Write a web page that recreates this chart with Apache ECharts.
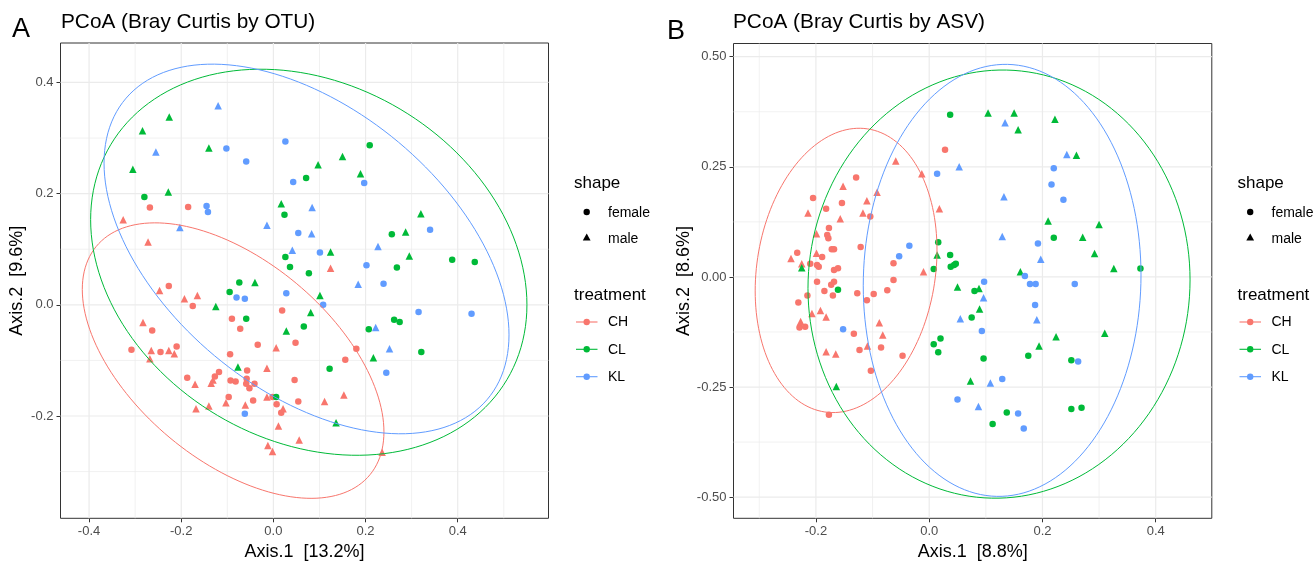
<!DOCTYPE html>
<html><head><meta charset="utf-8">
<script src="https://cdn.jsdelivr.net/npm/echarts@6/dist/echarts.min.js"></script>
<style>html,body{margin:0;padding:0;background:#fff}#c{width:1315px;height:563px}</style>
</head><body><div id="c"></div>
<script>
const FONT = '"Liberation Sans", Arial, sans-serif';
const treatments = ['CH', 'CL', 'KL'];
const treatmentColors = ['#F8766D', '#00BA38', '#619CFF'];
const shapeLabels = ['female', 'male'];

// ---------- Panel A (OTU) ----------
const A_CH_female = [[-0.268,0.175],[-0.185,0.176],[-0.227,0.034],[-0.175,-0.002],[0.019,-0.010],[-0.090,-0.025],[-0.263,-0.046],[-0.072,-0.043],[0.048,-0.068],[-0.034,-0.072],[-0.308,-0.081],[-0.245,-0.085],[-0.210,-0.075],[-0.094,-0.089],[-0.057,-0.118],[0.046,-0.135],[-0.118,-0.121],[-0.127,-0.129],[-0.187,-0.131],[-0.093,-0.136],[-0.082,-0.138],[-0.058,-0.133],[-0.059,-0.142],[-0.052,-0.150],[-0.041,-0.142],[-0.002,-0.166],[-0.097,-0.166],[-0.044,-0.172],[0.007,-0.179],[0.017,-0.194],[0.054,-0.174],[0.180,-0.079],[0.156,-0.099]];
const A_CH_male = [[-0.326,0.153],[-0.272,0.113],[0.124,0.066],[-0.247,0.026],[-0.193,0.011],[-0.165,0.017],[-0.283,-0.032],[0.006,-0.077],[-0.265,-0.082],[-0.227,-0.082],[-0.215,-0.088],[-0.268,-0.097],[-0.014,-0.114],[-0.131,-0.135],[-0.135,-0.141],[-0.170,-0.143],[-0.014,-0.166],[-0.103,-0.176],[-0.061,-0.180],[-0.140,-0.182],[-0.168,-0.187],[0.021,-0.187],[0.011,-0.218],[0.056,-0.243],[-0.012,-0.253],[-0.002,-0.264],[0.153,-0.162],[0.111,-0.174],[0.236,-0.265]];
const A_CL_female = [[0.071,0.228],[-0.280,0.194],[0.024,0.162],[0.026,0.086],[0.036,0.068],[0.077,0.057],[-0.074,0.040],[0.209,0.287],[0.257,0.127],[0.388,0.081],[0.437,0.077],[0.268,0.067],[0.066,-0.039],[0.262,-0.027],[0.274,-0.031],[0.207,-0.044],[0.321,-0.085],[0.122,-0.115],[-0.095,0.023],[-0.059,-0.025],[0.006,-0.166]];
const A_CL_male = [[-0.226,0.338],[-0.284,0.313],[-0.140,0.282],[-0.305,0.244],[-0.228,0.203],[0.017,0.182],[-0.040,0.040],[0.150,0.267],[0.097,0.252],[0.189,0.236],[0.320,0.164],[0.287,0.131],[0.124,0.095],[0.295,0.088],[0.101,0.017],[0.081,-0.014],[0.217,-0.095],[0.136,-0.212],[-0.125,-0.003],[0.028,-0.047],[-0.077,-0.112]];
const A_KL_female = [[0.026,0.294],[-0.102,0.281],[-0.059,0.258],[0.043,0.221],[-0.145,0.178],[-0.142,0.167],[0.054,0.129],[0.197,0.219],[0.340,0.135],[0.101,0.094],[0.202,0.071],[0.239,0.038],[0.108,0.000],[0.315,-0.013],[0.430,-0.016],[0.245,-0.122],[-0.080,0.013],[-0.062,0.011],[0.028,0.021],[-0.062,-0.196]];
const A_KL_male = [[-0.120,0.358],[-0.255,0.275],[-0.203,0.139],[-0.014,0.143],[0.041,0.098],[0.084,0.175],[0.083,0.128],[0.227,0.105],[0.184,0.037],[0.222,-0.041],[0.252,-0.079]];

// ellipse: [centerX, centerY, halfWidthX, yOffsetAtRightmost, ySinAmplitude]
const A_ellipse_CH = [-0.0874, -0.1003, 0.3273, -0.1281, 0.2121];
const A_ellipse_CL = [0.0768, 0.0766, 0.4734, -0.0766, 0.3387];
const A_ellipse_KL = [0.0719, 0.1005, 0.4394, -0.1545, 0.2944];

const A_xRange = [-0.462, 0.597];
const A_yRange = [-0.384, 0.471];
const A_xMajor = [-0.4, -0.2, 0, 0.2, 0.4];
const A_xMinor = [-0.3, -0.1, 0.1, 0.3, 0.5];
const A_yMajor = [-0.2, 0, 0.2, 0.4];
const A_yMinor = [-0.3, -0.1, 0.1, 0.3];

// ---------- Panel B (ASV) ----------
const B_CH_female = [[0.028,0.289],[-0.129,0.226],[-0.205,0.179],[-0.154,0.168],[-0.182,0.155],[-0.104,0.137],[-0.177,0.111],[-0.180,0.095],[-0.178,0.088],[-0.172,0.063],[-0.168,0.063],[-0.121,0.068],[-0.233,0.055],[-0.189,0.045],[-0.210,0.030],[-0.198,0.027],[-0.195,0.023],[-0.168,0.016],[-0.161,0.020],[-0.063,0.031],[-0.063,-0.007],[-0.198,-0.011],[-0.185,-0.032],[-0.173,-0.018],[-0.168,-0.011],[-0.215,-0.042],[-0.170,-0.042],[-0.127,-0.037],[-0.098,-0.039],[-0.074,-0.030],[-0.110,-0.053],[-0.231,-0.058],[-0.229,-0.115],[-0.219,-0.113],[-0.133,-0.129],[-0.123,-0.166],[-0.085,-0.160],[-0.047,-0.179],[-0.103,-0.213],[-0.177,-0.313]];
const B_CH_male = [[-0.059,0.263],[-0.013,0.234],[-0.152,0.206],[-0.092,0.192],[-0.110,0.173],[-0.214,0.145],[0.018,0.155],[-0.117,0.145],[-0.157,0.132],[-0.199,0.098],[-0.199,0.054],[-0.244,0.042],[-0.225,0.030],[-0.010,0.012],[-0.207,-0.083],[-0.192,-0.076],[-0.182,-0.091],[-0.227,-0.101],[-0.088,-0.104],[-0.082,-0.132],[-0.109,-0.157],[-0.182,-0.170],[-0.165,-0.175]];
const B_CL_female = [[0.037,0.368],[0.016,0.079],[0.037,0.050],[0.038,0.023],[0.044,0.027],[0.047,0.030],[0.008,0.018],[-0.161,-0.029],[0.080,-0.032],[0.075,-0.092],[0.020,-0.140],[0.008,-0.153],[0.016,-0.171],[0.220,0.089],[0.373,0.019],[0.175,-0.179],[0.096,-0.185],[0.251,-0.189],[0.137,-0.308],[0.112,-0.334],[0.251,-0.300],[0.269,-0.297]];
const B_CL_male = [[0.014,0.050],[-0.225,0.021],[-0.164,-0.249],[0.050,-0.023],[0.073,-0.236],[0.104,0.372],[0.150,0.372],[0.157,0.334],[0.222,0.358],[0.260,0.276],[0.210,0.127],[0.300,0.119],[0.271,0.090],[0.292,0.053],[0.161,0.012],[0.326,0.019],[0.088,-0.026],[0.089,-0.073],[0.224,-0.136],[0.310,-0.128],[0.194,-0.157]];
const B_KL_female = [[0.014,0.234],[-0.035,0.071],[-0.053,0.047],[-0.152,-0.119],[0.050,-0.278],[0.220,0.247],[0.216,0.210],[0.237,0.175],[0.192,0.076],[0.169,0.002],[0.097,-0.011],[0.178,-0.016],[0.188,-0.016],[0.257,-0.016],[0.187,-0.064],[0.093,-0.123],[0.263,-0.192],[0.129,-0.232],[0.157,-0.310],[0.167,-0.344]];
const B_KL_male = [[0.053,0.250],[0.055,-0.095],[0.134,0.350],[0.243,0.278],[0.132,0.182],[0.129,0.092],[0.197,0.040],[0.096,-0.047],[0.190,-0.097],[0.108,-0.241],[0.087,-0.294]];

const B_ellipse_CH = [-0.1467, 0.0148, 0.1605, 0.0465, 0.3194];
const B_ellipse_CL = [0.1233, -0.0163, 0.3373, 0.0095, 0.4860];
const B_ellipse_KL = [0.1288, -0.0078, 0.2452, 0.0123, 0.4903];

const B_xRange = [-0.3455, 0.499];
const B_yRange = [-0.548, 0.530];
const B_xMajor = [-0.2, 0, 0.2, 0.4];
const B_xMinor = [-0.3, -0.1, 0.1, 0.3];
const B_yMajor = [-0.5, -0.25, 0, 0.25, 0.5];
const B_yMinor = [-0.375, -0.125, 0.125, 0.375];

const titles = ['PCoA (Bray Curtis by OTU)', 'PCoA (Bray Curtis by ASV)'];
const panelLetters = ['A', 'B'];
const xNames = ['Axis.1  [13.2%]', 'Axis.1  [8.8%]'];
const yNames = ['Axis.2  [9.6%]', 'Axis.2  [8.6%]'];

// ---------- build ----------
function ellipsePoints(p) {
  const out = [];
  const n = 160;
  for (let i = 0; i <= n; i++) {
    const t = 2 * Math.PI * i / n;
    out.push([p[0] + p[2] * Math.cos(t), p[1] + p[3] * Math.cos(t) + p[4] * Math.sin(t)]);
  }
  return out;
}

function gridLineSeries(gi, xMaj, xMin, yMaj, yMin) {
  const data = [];
  xMin.forEach(v => data.push([v, 0, 0]));
  yMin.forEach(v => data.push([v, 1, 0]));
  xMaj.forEach(v => data.push([v, 0, 1]));
  yMaj.forEach(v => data.push([v, 1, 1]));
  return {
    type: 'custom', xAxisIndex: gi, yAxisIndex: gi, silent: true, z: 1,
    data: data,
    renderItem: function (params, api) {
      const cs = params.coordSys;
      const v = api.value(0), orient = api.value(1), major = api.value(2);
      let shape;
      if (orient === 0) {
        const p = api.coord([v, 0]);
        shape = { x1: p[0], y1: cs.y, x2: p[0], y2: cs.y + cs.height };
      } else {
        const p = api.coord([0, v]);
        shape = { x1: cs.x, y1: p[1], x2: cs.x + cs.width, y2: p[1] };
      }
      return { type: 'line', shape: shape, style: { stroke: '#EBEBEB', lineWidth: major ? 1.2 : 0.7 } };
    }
  };
}

function makeAxis(dim, gi, range, ticks, dec, name, gap) {
  return {
    type: 'value', gridIndex: gi, min: range[0], max: range[1],
    axisLine: { show: false, onZero: false },
    axisTick: { show: true, length: 4, lineStyle: { color: '#333333', width: 1 }, customValues: ticks },
    axisLabel: { show: true, customValues: ticks, margin: 7, color: '#4D4D4D', fontSize: 13, fontFamily: FONT,
      formatter: v => Number(v).toFixed(dec) },
    splitLine: { show: false }, minorTick: { show: false }, minorSplitLine: { show: false },
    name: name, nameLocation: 'middle', nameGap: gap,
    nameTextStyle: { color: '#000000', fontSize: 18, fontFamily: FONT }
  };
}

const panels = [
  { female: [A_CH_female, A_CL_female, A_KL_female], male: [A_CH_male, A_CL_male, A_KL_male],
    ell: [A_ellipse_CH, A_ellipse_CL, A_ellipse_KL] },
  { female: [B_CH_female, B_CL_female, B_KL_female], male: [B_CH_male, B_CL_male, B_KL_male],
    ell: [B_ellipse_CH, B_ellipse_CL, B_ellipse_KL] }
];

const series = [
  gridLineSeries(0, A_xMajor, A_xMinor, A_yMajor, A_yMinor),
  gridLineSeries(1, B_xMajor, B_xMinor, B_yMajor, B_yMinor)
];
panels.forEach((pn, gi) => {
  treatments.forEach((tr, k) => {
    series.push({
      type: 'line', name: tr + ' ellipse', xAxisIndex: gi, yAxisIndex: gi, data: ellipsePoints(pn.ell[k]),
      showSymbol: false, symbol: 'none', smooth: false, silent: true, z: 3,
      lineStyle: { color: treatmentColors[k], width: 1 }
    });
    series.push({
      type: 'scatter', name: tr + ' female', xAxisIndex: gi, yAxisIndex: gi, data: pn.female[k],
      symbol: 'circle', symbolSize: 6.5, itemStyle: { color: treatmentColors[k], opacity: 1 }, z: 2
    });
    series.push({
      type: 'scatter', name: tr + ' male', xAxisIndex: gi, yAxisIndex: gi, data: pn.male[k],
      symbol: 'triangle', symbolSize: 7.5, itemStyle: { color: treatmentColors[k], opacity: 1 }, z: 2
    });
  });
});

// legends (drawn as graphics)
function legendGraphics(x0) {
  const g = [];
  const txt = (x, y, s, size) => ({ type: 'text', x: x, y: y,
    style: { text: s, fontSize: size, fontFamily: FONT, fill: '#000000', verticalAlign: 'middle', align: 'left' } });
  g.push(txt(x0, 183, 'shape', 17));
  g.push({ type: 'circle', shape: { cx: x0 + 12.7, cy: 212, r: 3.2 }, style: { fill: '#000000' } });
  g.push({ type: 'polygon', shape: { points: [[x0 + 12.7, 233.6], [x0 + 16.6, 240.4], [x0 + 8.8, 240.4]] }, style: { fill: '#000000' } });
  g.push(txt(x0 + 34, 213, shapeLabels[0], 14));
  g.push(txt(x0 + 34, 239, shapeLabels[1], 14));
  g.push(txt(x0, 295, 'treatment', 17));
  const ys = [322, 349.3, 376.7];
  treatments.forEach((tr, k) => {
    g.push({ type: 'line', shape: { x1: x0 + 2, y1: ys[k], x2: x0 + 23.5, y2: ys[k] }, style: { stroke: treatmentColors[k], lineWidth: 1.1 } });
    g.push({ type: 'circle', shape: { cx: x0 + 12.7, cy: ys[k], r: 3.2 }, style: { fill: treatmentColors[k] } });
    g.push(txt(x0 + 34, ys[k] + 0.5, tr, 14));
  });
  return g;
}

const chart = echarts.init(document.getElementById('c'), null, { renderer: 'canvas' });
chart.setOption({
  animation: false,
  backgroundColor: '#ffffff',
  textStyle: { fontFamily: FONT },
  title: [
    { text: panelLetters[0], left: 12, top: 16, padding: 0, textStyle: { fontSize: 27, fontWeight: 'normal', color: '#000', fontFamily: FONT } },
    { text: titles[0], left: 61, top: 12, padding: 0, textStyle: { fontSize: 20.8, fontWeight: 'normal', color: '#000', fontFamily: FONT } },
    { text: panelLetters[1], left: 667, top: 18, padding: 0, textStyle: { fontSize: 27, fontWeight: 'normal', color: '#000', fontFamily: FONT } },
    { text: titles[1], left: 733, top: 12, padding: 0, textStyle: { fontSize: 20.8, fontWeight: 'normal', color: '#000', fontFamily: FONT } }
  ],
  grid: [
    { left: 60.5, right: 1315 - 548.5, top: 43, bottom: 563 - 518.3, show: true, borderColor: '#333333', borderWidth: 1, backgroundColor: 'transparent', containLabel: false, outerBoundsMode: 'none' },
    { left: 733.5, right: 1315 - 1211.8, top: 43.5, bottom: 563 - 518.3, show: true, borderColor: '#333333', borderWidth: 1, backgroundColor: 'transparent', containLabel: false, outerBoundsMode: 'none' }
  ],
  xAxis: [
    makeAxis('x', 0, A_xRange, A_xMajor, 1, xNames[0], 23),
    makeAxis('x', 1, B_xRange, B_xMajor, 1, xNames[1], 23)
  ],
  yAxis: [
    makeAxis('y', 0, A_yRange, A_yMajor, 1, yNames[0], 34),
    makeAxis('y', 1, B_yRange, B_yMajor, 2, yNames[1], 37)
  ],
  series: series,
  graphic: legendGraphics(574).concat(legendGraphics(1237.5))
});
</script></body></html>
